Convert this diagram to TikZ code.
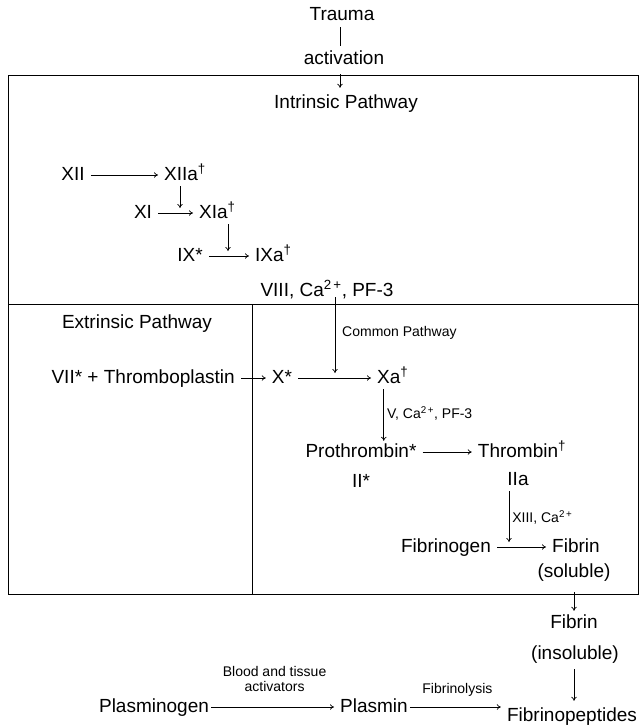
\documentclass[tikz,border=0pt]{standalone}
\usepackage{fontspec}
\setmainfont{Liberation Sans}
\usetikzlibrary{arrows.meta,positioning}
\tikzset{
  big/.style={font=\fontsize{19}{22}\selectfont, inner sep=1pt, text height=14pt, text depth=4pt},
  small/.style={font=\fontsize{14}{15}\selectfont, inner sep=1pt, text height=10.5pt, text depth=3pt},
  flow/.style={-{To[length=4pt,width=5.5pt]}, line width=0.7pt, shorten <=5pt, shorten >=5pt},
}
\newcommand{\dg}{\textsuperscript{\textdagger}}
\newcommand{\catwo}{Ca\textsuperscript{2\,+}}

\begin{document}
\begin{tikzpicture}[x=1pt, y=-1pt]
        \useasboundingbox (0,0) rectangle (640,728);
        % frame
        \draw[line width=1pt] (8,75) rectangle (638,594);
        \draw[line width=1pt] (8,304) -- (638,304);
        \draw[line width=1pt] (252,304) -- (252,594);
        % trauma
        \node[big] (trauma) at (342,15) {Trauma};
        \node[big] (activ) at (344,59) {activation};
        \node[big] (intr) at (346,103) {Intrinsic Pathway};
        \coordinate (tx) at (340,0);
        \draw[line width=0.7pt, shorten <=2pt, shorten >=3pt] (trauma.south -| tx) -- (activ.north -| tx);
        \draw[flow] (activ.south -| tx) -- (intr.north -| tx);
        % intrinsic pathway
        \node[big] (xii) at (73,175) {XII};
        \node[big, anchor=west] (xiia) at (163,175) {XIIa\dg};
        \node[big] (xi) at (143,213) {XI};
        \node[big, anchor=west] (xia) at (198,213) {XIa\dg};
        \node[big] (ix) at (190,256) {IX*};
        \node[big, anchor=west] (ixa) at (254,256) {IXa\dg};
        \node[big] (viii) at (327,291) {VIII, \catwo, PF-3};
        \coordinate (j1) at (180,213);
        \coordinate (j2) at (228,256);
        \draw[flow] (xii) -- (xiia);
        \draw[flow] (xi) -- (xia);
        \draw[flow] (ix) -- (ixa);
        \draw[flow, shorten <=1pt] (xiia.south -| j1) -- (j1);
        \draw[flow, shorten <=1pt] (xia.south -| j2) -- (j2);
        % extrinsic and common pathway
        \node[big] (extr) at (137,323) {Extrinsic Pathway};
        \node[big, anchor=east] (vii) at (236,378) {VII* + Thromboplastin};
        \node[big] (x) at (282,378) {X*};
        \node[big, anchor=west] (xa) at (376,378) {Xa\dg};
        \node[small, anchor=west] (common) at (341,333) {Common Pathway};
        \coordinate (j3) at (335,378);
        \draw[flow] (vii) -- (x);
        \draw[flow] (x) -- (xa);
        \draw[flow, shorten <=-4pt] (viii.south -| j3) -- (j3);
        \node[big] (pro) at (361,452) {Prothrombin*};
        \node[big] (ii) at (361,482) {II*};
        \node[big] (thr) at (522,452) {Thrombin\dg};
        \node[big] (iia) at (518,480) {IIa};
        \draw[flow, shorten <=1pt, shorten >=1pt] ([xshift=-9pt]xa.south) -- ([xshift=-9pt]xa.south |- pro.north)
          node[small, midway, right=2pt] {V, \catwo, PF-3};
        \draw[flow] (pro) -- (thr);
        \node[big] (fbg) at (446,547) {Fibrinogen};
        \node[big, anchor=west] (fib) at (551,547) {Fibrin};
        \node[big] (sol) at (574,572) {(soluble)};
        \coordinate (j4) at (509,547);
        \draw[flow] (fbg) -- (fib);
        \draw[flow, shorten <=1pt] (iia.south -| j4) -- (j4)
          node[small, midway, right=2pt] {XIII, \catwo};
        % fibrinolysis
        \node[big] (fib2) at (574,623) {Fibrin};
        \node[big] (insol) at (575,654) {(insoluble)};
        \node[big] (pep) at (572,716) {Fibrinopeptides};
        \draw[flow, shorten <=10pt, shorten >=2pt] (sol.south) -- (fib2.north);
        \draw[flow] (insol.south -| fib2) -- (pep.north -| fib2);
        \node[big] (plg) at (154,707) {Plasminogen};
        \node[big] (pla) at (374,707) {Plasmin};
        \draw[flow, shorten <=1pt] (plg) -- (pla)
          node[small, midway, above=11pt, align=center] {Blood and tissue\\activators};
        \draw[flow, shorten <=1pt] (pla) -- (pla -| pep.west)
          node[small, midway, above=9pt] {Fibrinolysis};
\end{tikzpicture}
\end{document}
